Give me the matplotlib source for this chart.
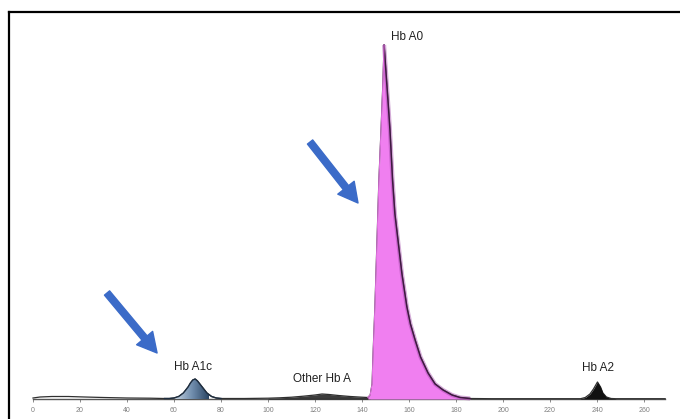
import matplotlib
matplotlib.use("Agg")
import matplotlib.pyplot as plt
import numpy as np
from matplotlib.lines import Line2D
from matplotlib.colors import LinearSegmentedColormap

# ---- data (retention index vs. detector signal) ----
time = [0, 3, 8, 15, 22, 30, 40, 50, 56, 58, 60, 62, 64, 66, 67, 68, 69, 70, 72,
        74, 76, 78, 80, 90, 100, 105, 110, 115, 120, 123, 126, 130, 135, 140,
        142.5, 143.5, 144.3, 144.8, 145.5, 146.4, 147.2, 148.1, 148.8, 149.4,
        150.4, 151.3, 151.9, 153.0, 154.0, 155.3, 157.0, 159.1, 160.6, 162.6,
        164.9, 168.1, 171.1, 174.5, 178.3, 181.7, 186, 195, 210, 225, 233, 235,
        237, 238.5, 240.2, 241.5, 242.5, 244, 246, 248, 255, 269]
signal = [1, 2, 2.5, 2.5, 2, 1.5, 1, 0.8, 0.5, 0.5, 1, 2.5, 6, 12, 16, 19, 20, 18, 12,
          6, 2.5, 1, 0.5, 0.5, 0.8, 1.2, 1.8, 2.8, 4, 5, 4.5, 3.5, 2.5, 1.8,
          1.5, 4, 15, 50, 92, 159, 219, 269, 310, 354,
          320, 290, 269, 219, 185, 159, 125, 92, 75, 59,
          42, 26, 15, 9, 4, 1.5, 0.5, 0.3, 0.3, 0.3, 0.3, 1.5,
          5, 10, 17, 12, 6, 2, 0.5, 0.3, 0.3, 0.3]

peak_names = ["Hb A1c", "Other Hb A", "Hb A0", "Hb A2"]
peak_start = [56, 100, 142.5, 233]
peak_end = [80, 143.5, 186, 248]

xticks = list(range(0, 261, 20))

t = np.array(time)
s = np.array(signal)

fig = plt.figure(figsize=(6.8, 4.19), dpi=100)
ax = fig.add_axes([0, 0, 1, 1])
ax.set_xlim(-33 / 2.35, 647 / 2.35)
ax.set_ylim(-20, 399)
ax.patch.set_alpha(0)

# trace
ax.plot(t, s, color="#303030", lw=0.9, zorder=3)

def seg(i):
    m = (t >= peak_start[i]) & (t <= peak_end[i])
    return t[m], s[m]

# Hb A1c : steel-blue gradient fill
x1, y1 = seg(0)
poly = ax.fill_between(x1, 0, y1, color="none", zorder=4)
cmap = LinearSegmentedColormap.from_list("bl", ["#c0cfde", "#6f8cac", "#2a4563"])
grad = np.linspace(0, 1, 200).reshape(1, -1)
im = ax.imshow(grad, extent=[peak_start[0] + 5, peak_end[0] - 5, 0, 22], cmap=cmap,
               aspect="auto", zorder=4, origin="lower")
im.set_clip_path(poly.get_paths()[0], transform=ax.transData)
ax.plot(x1, y1, color="#1e2e40", lw=1.0, zorder=5)

# Other Hb A : dark fill
x2, y2 = seg(1)
ax.fill_between(x2, 0, y2, color="#1a1a1a", alpha=0.85, zorder=4, lw=0)

# Hb A0 : pink/violet fill with dark right edge
x3, y3 = seg(2)
ax.fill_between(x3, 0, y3, color="#f07ff0", zorder=4, lw=0)
apex_i = int(np.argmax(y3))
ax.plot(x3[apex_i:], y3[apex_i:], color="#a048a8", lw=3.0, alpha=0.45, zorder=5,
        solid_capstyle="butt", solid_joinstyle="round")
ax.plot(x3[apex_i:], y3[apex_i:], color="#3e1a40", lw=1.1, zorder=6,
        solid_joinstyle="round")
ax.plot(x3[:apex_i + 1], y3[:apex_i + 1], color="#e070e0", lw=0.8, zorder=6)

# Hb A2 : black fill
x4, y4 = seg(3)
ax.fill_between(x4, 0, y4, color="#111111", zorder=4, lw=0)

# axis
for sp in ["top", "right", "left"]:
    ax.spines[sp].set_visible(False)
ax.spines["bottom"].set_position(("data", 0))
ax.spines["bottom"].set_bounds(0, 269)
ax.spines["bottom"].set_color("#555555")
ax.spines["bottom"].set_linewidth(1.0)
ax.set_yticks([])
ax.set_xticks(xticks)
ax.set_xticklabels([str(v) for v in xticks], fontsize=5, color="#808080",
                   family="Liberation Sans")
ax.tick_params(axis="x", length=2.5, width=0.6, color="#777777", pad=3)

# peak labels
lab_y = [32, 20, 362, 31]
lab_x = [68.1, 122.9, 159.1, 240.4]
for name, lx, ly in zip(peak_names, lab_x, lab_y):
    ax.text(lx, ly, name, fontsize=8.5, family="Liberation Sans", color="#222222",
            ha="center", va="center", zorder=7)

# blue arrows
for (tx, ty), (hx, hy) in [((31.5, 106), (52.8, 46)), ((117.9, 257), (138.3, 196))]:
    ax.annotate("", xy=(hx, hy), xytext=(tx, ty),
                arrowprops=dict(arrowstyle="simple,head_width=15,head_length=14,tail_width=4.8",
                                color="#3b6bc8", mutation_scale=1, shrinkA=0, shrinkB=0),
                zorder=8)

# outer frame (top and left edges)
fig.add_artist(Line2D([8.5, 680], [407.5, 407.5], transform=None, color="black", lw=1.6))
fig.add_artist(Line2D([8.5, 8.5], [0, 407.5], transform=None, color="black", lw=1.6))

fig.savefig("out.png", dpi=100)
